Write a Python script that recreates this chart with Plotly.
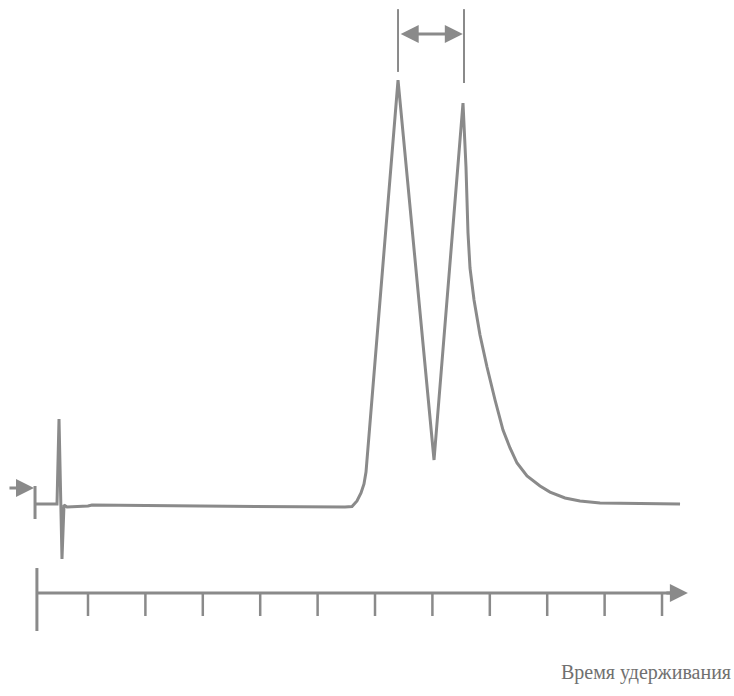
import plotly.graph_objects as go

# Chromatogram (time in arbitrary units, signal in % of first peak)
time = [0.077, 0.425, 0.460, 0.495, 0.547, 0.582, 0.634, 1.000, 1.070, 2.951, 4.693,
        5.477, 5.599, 5.686, 5.756, 5.808, 5.843, 6.401, 7.028, 7.533, 7.585,
        7.620, 7.655, 7.725, 7.829, 7.951, 8.091, 8.230, 8.352, 8.474, 8.648,
        8.875, 9.049, 9.310, 9.571, 9.920, 11.314]
signal = [0.70, 0.70, 0.70, 20.61, -12.18, 0.47, 0.0, 0.23, 0.47, 0.23, 0.0,
          0.0, 0.12, 1.41, 3.28, 5.39, 8.20, 100.0, 11.01, 94.61, 79.63,
          64.17, 55.97, 48.48, 40.28, 32.79, 25.06, 18.03, 13.82, 10.30, 7.26,
          4.92, 3.51, 2.11, 1.41, 0.94, 0.70]

tick_times = [1, 2, 3, 4, 5, 6, 7, 8, 9, 10, 11]
peak_times = [6.401, 7.55]
axis_label = "Время удерживания"

# layout constants
axis_y = -20.14
tick_bottom = -25.53
axis_start = 0.11
axis_end = 11.45
inj_t = 0.077
col = "#8a8a8a"

fig = go.Figure()
fig.add_trace(go.Scatter(x=time, y=signal, mode="lines",
                         line=dict(color=col, width=3), hoverinfo="skip"))

# time axis line
fig.add_trace(go.Scatter(x=[axis_start, axis_end - 0.2], y=[axis_y, axis_y], mode="lines",
                         line=dict(color=col, width=3), hoverinfo="skip"))
# ticks
tx, ty = [], []
for t in tick_times:
    tx += [t, t, None]
    ty += [axis_y, tick_bottom, None]
fig.add_trace(go.Scatter(x=tx, y=ty, mode="lines",
                         line=dict(color=col, width=2.5), hoverinfo="skip"))

shapes = [
    dict(type="line", x0=axis_start, x1=axis_start, y0=-14.29, y1=-29.04,
         line=dict(color=col, width=3)),
    dict(type="line", x0=inj_t, x1=inj_t, y0=4.92, y1=-2.81,
         line=dict(color=col, width=3)),
    dict(type="line", x0=peak_times[0], x1=peak_times[0], y0=116.6, y1=101.9,
         line=dict(color=col, width=2)),
    dict(type="line", x0=peak_times[1], x1=peak_times[1], y0=116.6, y1=99.3,
         line=dict(color=col, width=2)),
]

annotations = [
    # axis arrow
    dict(x=axis_end, y=axis_y, ax=axis_end - 0.4, ay=axis_y, xref="x", yref="y",
         axref="x", ayref="y", showarrow=True, arrowhead=2, arrowsize=1.2,
         arrowwidth=3, arrowcolor=col, text=""),
    # injection arrow
    dict(x=0.059, y=4.45, ax=-0.394, ay=4.45, xref="x", yref="y",
         axref="x", ayref="y", showarrow=True, arrowhead=2, arrowsize=1.2,
         arrowwidth=3, arrowcolor=col, text=""),
    # retention difference arrow
    dict(x=peak_times[1] - 0.02, y=110.77, ax=peak_times[0] + 0.02, ay=110.77, xref="x", yref="y",
         axref="x", ayref="y", showarrow=True, arrowhead=2, startarrowhead=2,
         arrowside="end+start", arrowsize=1.2, startarrowsize=1.2,
         arrowwidth=3, arrowcolor=col, text=""),
    dict(x=12.24, y=-38.64, xref="x", yref="y", text=axis_label, showarrow=False,
         xanchor="right", yanchor="middle",
         font=dict(family="Liberation Serif", size=20, color="#707070")),
]

fig.update_layout(
    width=734, height=696,
    margin=dict(l=0, r=0, t=0, b=0),
    paper_bgcolor="white", plot_bgcolor="white",
    showlegend=False,
    xaxis=dict(range=[-0.533, 12.254], visible=False, fixedrange=True),
    yaxis=dict(range=[-44.26, 118.74], visible=False, fixedrange=True),
    shapes=shapes, annotations=annotations,
)

fig.write_html("out.html")
